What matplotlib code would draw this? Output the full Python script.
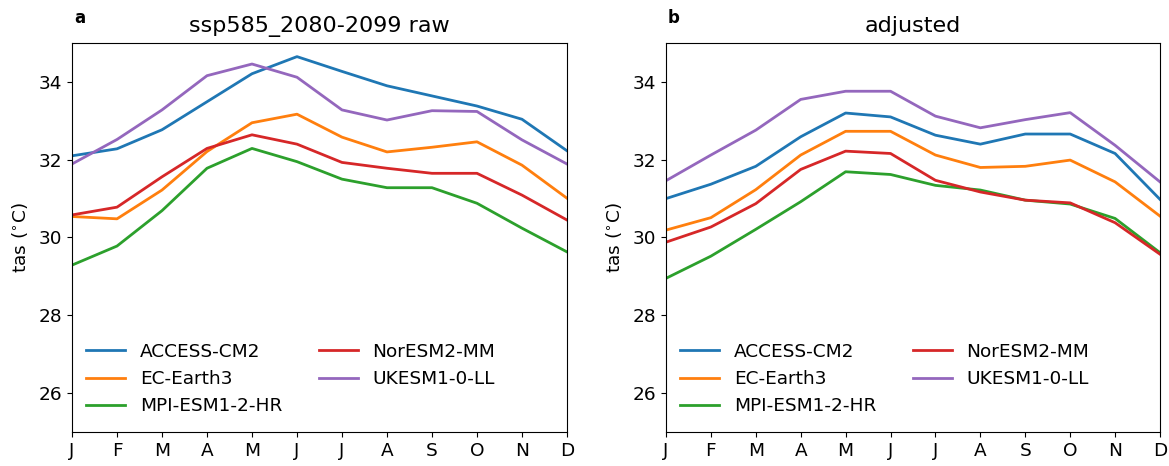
import numpy as np
import matplotlib.pyplot as plt

months = ["J", "F", "M", "A", "M", "J", "J", "A", "S", "O", "N", "D"]
models = ["ACCESS-CM2", "EC-Earth3", "MPI-ESM1-2-HR", "NorESM2-MM", "UKESM1-0-LL"]
colors = ["tab:blue", "tab:orange", "tab:green", "tab:red", "tab:purple"]

# raw, ssp585 2080-2099
raw_access = [32.10, 32.28, 32.77, 33.49, 34.21, 34.65, 34.27, 33.90, 33.64, 33.38, 33.04, 32.23]
raw_ecearth = [30.54, 30.48, 31.22, 32.21, 32.95, 33.17, 32.58, 32.20, 32.32, 32.46, 31.86, 31.01]
raw_mpi = [29.29, 29.78, 30.69, 31.78, 32.29, 31.95, 31.50, 31.28, 31.28, 30.88, 30.24, 29.63]
raw_noresm = [30.58, 30.78, 31.56, 32.29, 32.64, 32.40, 31.93, 31.78, 31.65, 31.65, 31.09, 30.45]
raw_ukesm = [31.89, 32.52, 33.28, 34.16, 34.46, 34.12, 33.28, 33.02, 33.26, 33.24, 32.51, 31.89]

# adjusted
adj_access = [31.00, 31.37, 31.83, 32.59, 33.20, 33.10, 32.63, 32.40, 32.66, 32.66, 32.16, 30.98]
adj_ecearth = [30.19, 30.51, 31.23, 32.12, 32.73, 32.73, 32.12, 31.80, 31.83, 31.99, 31.43, 30.55]
adj_mpi = [28.95, 29.52, 30.21, 30.92, 31.69, 31.62, 31.34, 31.22, 30.96, 30.86, 30.49, 29.61]
adj_noresm = [29.88, 30.27, 30.87, 31.75, 32.22, 32.16, 31.47, 31.17, 30.96, 30.89, 30.38, 29.57]
adj_ukesm = [31.46, 32.12, 32.76, 33.55, 33.76, 33.76, 33.12, 32.82, 33.03, 33.21, 32.37, 31.43]

raw = [raw_access, raw_ecearth, raw_mpi, raw_noresm, raw_ukesm]
adj = [adj_access, adj_ecearth, adj_mpi, adj_noresm, adj_ukesm]

fs = 13.3
fig = plt.figure(figsize=(11.69, 4.66), dpi=100)
ax1 = fig.add_axes([0.0616, 0.073, 0.4234, 0.8347])
ax2 = fig.add_axes([0.5697, 0.073, 0.4226, 0.8347])

x = np.arange(12)
for ax, data, title, tag in [(ax1, raw, "ssp585_2080-2099 raw", "a"),
                             (ax2, adj, "adjusted", "b")]:
    for vals, name, c in zip(data, models, colors):
        ax.plot(x, vals, color=c, lw=2, label=name)
    ax.set_xlim(0, 11)
    ax.set_ylim(25, 35)
    ax.set_yticks([26, 28, 30, 32, 34])
    ax.set_xticks(x)
    ax.set_xticklabels(months)
    ax.tick_params(labelsize=fs)
    ax.set_ylabel("tas ($^{\\circ}$C)", fontsize=fs, labelpad=6)
    ax.set_title(title, fontsize=16, pad=8)
    ax.text(0.004, 1.064, tag, transform=ax.transAxes, fontsize=12,
            fontweight="bold", ha="left", va="center")
    ax.legend(loc="lower left", ncol=2, frameon=False, fontsize=fs,
              columnspacing=2.0, handlelength=2.1, handletextpad=0.8,
              labelspacing=0.5, bbox_to_anchor=(-0.005, 0.0))

fig.savefig("out.png", dpi=100)
